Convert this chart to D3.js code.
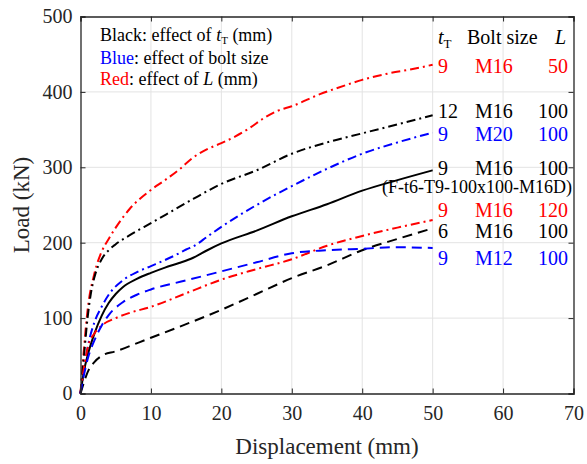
<!DOCTYPE html>
<html>
<head>
<meta charset="utf-8">
<script src="https://cdn.jsdelivr.net/npm/d3@7"></script>
<style>
  html, body { margin: 0; padding: 0; background: #fff; }
  svg { display: block; }
  svg text { font-family: "Liberation Serif", "Times New Roman", serif !important; }
</style>
</head>
<body>
<svg id="chart" width="587" height="464"></svg>
<script>
// ---------- data (displacement mm, load kN) ----------
const xTicks = [0, 10, 20, 30, 40, 50, 60, 70];
const yTicks = [0, 100, 200, 300, 400, 500];

const redL50 = [[0,0],[0.5,60],[1,110],[2,160],[3,188],[4,205],[5,220],[7,245],[10,270],[12,283],[14,297],[16,313],[18,324],[20,332],[22,341],[24,352],[26,365],[28,375],[30,381],[34,397],[38,410],[40,416],[44,425],[47,430],[50,436]];
const blackT12 = [[0,0],[0.5,50],[1,100],[1.5,134],[2,155],[3,178],[4,190],[5,198],[7,210],[10,226],[13,242],[16,258],[20,278],[25,296],[30,318],[35,333],[40,345],[45,357],[50,369]];
const blueM20 = [[0,0],[0.5,30],[1,60],[2,95],[3,115],[4,131],[6,150],[8,161],[10,169],[12,177],[14,186],[15,191],[16,195],[18,208],[20,221],[25,250],[30,275],[35,298],[40,318],[45,333],[50,346]];
const blackT9 = [[0,0],[0.5,30],[1,50],[2,80],[3,103],[4,120],[5,132],[6,141],[8,152],[10,160],[12,167],[14,173],[16,180],[18,190],[20,199],[25,216],[30,235],[35,251],[40,269],[45,283],[50,296]];
const redL120 = [[0,0],[0.5,35],[1,60],[2,80],[3,90],[5,100],[7,107],[10,115],[15,133],[20,151],[25,165],[30,178],[35,196],[40,209],[45,220],[50,230]];
const blackT6 = [[0,0],[0.5,15],[1,28],[2,42],[3,50],[5,56],[10,74],[15,92],[20,111],[25,132],[30,153],[35,170],[40,190],[45,205],[50,219]];
const blueM12 = [[0,0],[0.5,25],[1,45],[2,71],[3,90],[4,104],[6,121],[8,131],[10,138],[15,150],[20,162],[25,174],[30,186],[35,190],[40,192],[45,194],[50,193]];

// table rows: tT, bolt size, L
const rowTT   = ["9", "12", "9", "9", "9", "6", "9"];
const rowBolt = ["M16", "M16", "M20", "M16", "M16", "M16", "M12"];
const rowL    = ["50", "100", "100", "100", "120", "100", "100"];
const specimenNote = "(F-t6-T9-100x100-M16D)";

// ---------- styles ----------
const FONT = "'Liberation Serif', 'Times New Roman', serif";
const RED = "#ff0000", BLUE = "#0000ff", BLACK = "#000000";
const DASHDOT = "9,4,2,4", DASHED = "10,6";
const series = [
  { data: redL50,  color: RED,   dash: DASHDOT },
  { data: blackT12, color: BLACK, dash: DASHDOT },
  { data: blueM20, color: BLUE,  dash: DASHDOT },
  { data: blackT9, color: BLACK, dash: null },
  { data: redL120, color: RED,   dash: DASHDOT },
  { data: blackT6, color: BLACK, dash: DASHED },
  { data: blueM12, color: BLUE,  dash: DASHED }
];
const rowColors = [RED, BLACK, BLUE, BLACK, RED, BLACK, BLUE];
const rowBaselines = [73, 118, 141, 175, 217, 238, 265];

// ---------- layout ----------
const svg = d3.select("#chart").attr("font-family", FONT);
const L = 80.5, R = 573.5, T = 16.5, B = 393.5;
const x = d3.scaleLinear().domain([0, 70]).range([L, R]);
const y = d3.scaleLinear().domain([0, 500]).range([B, T]);
const AXIS = "#262626";

// grid
const grid = svg.append("g");
grid.selectAll("line.gx").data(xTicks.slice(1, -1)).join("line")
  .attr("x1", d => x(d)).attr("x2", d => x(d)).attr("y1", T).attr("y2", B)
  .attr("stroke", "#e3e3e3").attr("stroke-width", 1);
grid.selectAll("line.gy").data(yTicks.slice(1, -1)).join("line")
  .attr("y1", d => y(d)).attr("y2", d => y(d)).attr("x1", L).attr("x2", R)
  .attr("stroke", "#e3e3e3").attr("stroke-width", 1);

// curves
const line = d3.line().x(d => x(d[0])).y(d => y(d[1])).curve(d3.curveMonotoneX);
svg.append("g").selectAll("path").data(series).join("path")
  .attr("d", d => line(d.data))
  .attr("fill", "none")
  .attr("stroke", d => d.color)
  .attr("stroke-width", 2)
  .attr("stroke-dasharray", d => d.dash);

// axes (ticks inside, box)
const tickLen = 5;
const xAxisB = d3.axisBottom(x).tickValues(xTicks).tickSize(-tickLen).tickPadding(12).tickFormat(d3.format("d"));
const yAxisL = d3.axisLeft(y).tickValues(yTicks).tickSize(-tickLen).tickPadding(8).tickFormat(d3.format("d"));
const xAxisT = d3.axisTop(x).tickValues(xTicks).tickSize(-tickLen).tickFormat("");
const yAxisR = d3.axisRight(y).tickValues(yTicks).tickSize(-tickLen).tickFormat("");

function styleAxis(g) {
  g.attr("font-family", FONT).attr("font-size", 20);
  g.select(".domain").attr("stroke", AXIS).attr("stroke-width", 1.3);
  g.selectAll(".tick line").attr("stroke", AXIS).attr("stroke-width", 1);
  g.selectAll(".tick text").attr("fill", AXIS).attr("font-family", FONT).attr("font-size", 20);
}
svg.append("g").attr("transform", `translate(0,${B})`).call(xAxisB).call(styleAxis)
  .selectAll(".tick text").attr("dy", "0.71em");
svg.append("g").attr("transform", `translate(${L},0)`).call(yAxisL).call(styleAxis);
svg.append("g").attr("transform", `translate(0,${T})`).call(xAxisT).call(styleAxis);
svg.append("g").attr("transform", `translate(${R},0)`).call(yAxisR).call(styleAxis);

// axis titles
svg.append("text").attr("x", (L + R) / 2).attr("y", 454).attr("text-anchor", "middle")
  .attr("font-family", FONT).attr("fill", AXIS).attr("font-size", 23).text("Displacement (mm)");
svg.append("text").attr("transform", `translate(29,${(T + B) / 2}) rotate(-90)`).attr("text-anchor", "middle")
  .attr("font-family", FONT).attr("fill", AXIS).attr("font-size", 23).text("Load (kN)");

// legend text (top-left)
const lg = svg.append("g").attr("font-family", FONT).attr("font-size", 18);
const l1 = lg.append("text").attr("x", 100).attr("y", 41).attr("fill", BLACK);
l1.append("tspan").text("Black: effect of ");
l1.append("tspan").attr("font-style", "italic").text("t");
l1.append("tspan").attr("dy", 3).attr("font-size", 11).text("T");
l1.append("tspan").attr("dy", -3).text(" (mm)");
const l2 = lg.append("text").attr("x", 100).attr("y", 64).attr("fill", BLACK);
l2.append("tspan").attr("fill", BLUE).text("Blue");
l2.append("tspan").text(": effect of bolt size");
const l3 = lg.append("text").attr("x", 100).attr("y", 85).attr("fill", BLACK);
l3.append("tspan").attr("fill", RED).text("Red");
l3.append("tspan").text(": effect of ");
l3.append("tspan").attr("font-style", "italic").text("L");
l3.append("tspan").text(" (mm)");

// table (right)
const tb = svg.append("g").attr("font-family", FONT).attr("font-size", 20);
const hT = tb.append("text").attr("x", 438).attr("y", 44).attr("fill", BLACK);
hT.append("tspan").attr("font-style", "italic").text("t");
hT.append("tspan").attr("dy", 4).attr("font-size", 13).text("T");
tb.append("text").attr("x", 467).attr("y", 44).attr("fill", BLACK).text("Bolt size");
tb.append("text").attr("x", 566).attr("y", 44).attr("text-anchor", "end").attr("font-style", "italic").attr("fill", BLACK).text("L");

rowTT.forEach((v, i) => {
  tb.append("text").attr("x", 438).attr("y", rowBaselines[i]).attr("fill", rowColors[i]).text(v);
  tb.append("text").attr("x", 475).attr("y", rowBaselines[i]).attr("fill", rowColors[i]).text(rowBolt[i]);
  tb.append("text").attr("x", 568).attr("y", rowBaselines[i]).attr("text-anchor", "end").attr("fill", rowColors[i]).text(rowL[i]);
});
svg.append("text").attr("x", 572).attr("y", 193).attr("text-anchor", "end")
  .attr("font-family", FONT).attr("font-size", 18).attr("fill", BLACK).text(specimenNote);
</script>
</body>
</html>
